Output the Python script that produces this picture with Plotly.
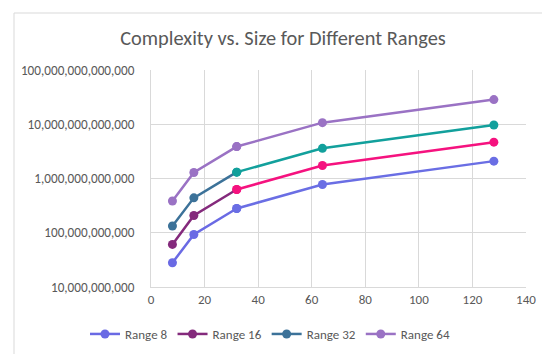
import plotly.graph_objects as go

sizes = [8, 16, 32, 64, 128]
series_names = ["Range 8", "Range 16", "Range 32", "Range 64"]
range8 = [2.8e10, 9.3e10, 2.8e11, 7.75e11, 2.09e12]
range16 = [6.1e10, 2.08e11, 6.27e11, 1.74e12, 4.68e12]
range32 = [1.33e11, 4.4e11, 1.31e12, 3.6e12, 9.7e12]
range64 = [3.84e11, 1.29e12, 3.88e12, 1.07e13, 2.85e13]
series_values = [range8, range16, range32, range64]

dark_colors = ["#6a6ae4", "#842a7c", "#3c7299", "#9a72c4"]
bright_colors = ["#6a6ee4", "#f5127f", "#12a09c", "#9a72c4"]

ytick_vals = [1e10, 1e11, 1e12, 1e13, 1e14]
ytick_text = ["10,000,000,000", "100,000,000,000", "1,000,000,000,000",
              "10,000,000,000,000", "100,000,000,000,000"]

FONT = "Carlito, Calibri, Lato, sans-serif"
fig = go.Figure()
split = 2
for name, vals, dc, bc in zip(series_names, series_values, dark_colors, bright_colors):
    fig.add_trace(go.Scatter(
        x=sizes[split:], y=vals[split:], mode="lines+markers", name=name,
        line=dict(color=bc, width=2.5), marker=dict(color=bc, size=9),
        showlegend=False, legendgroup=name))
for name, vals, dc, bc in zip(series_names, series_values, dark_colors, bright_colors):
    fig.add_trace(go.Scatter(
        x=sizes[:split + 1], y=vals[:split + 1], mode="lines+markers", name=name,
        line=dict(color=dc, width=2.5),
        marker=dict(color=[dc, dc, bc], size=9),
        legendgroup=name))

fig.update_layout(
    width=550, height=354,
    paper_bgcolor="white", plot_bgcolor="white",
    margin=dict(l=143, r=32, t=62, b=75),
    font=dict(family=FONT, color="#595959", size=12),
    title=dict(text="Complexity vs. Size for Different Ranges",
               x=0.5, xref="container", xanchor="center",
               y=1 - 30 / 354, yref="container", yanchor="middle",
               font=dict(size=20.4, color="#595959", family=FONT)),
    legend=dict(orientation="h", x=262 / 550, xref="container", xanchor="center",
                y=1 - 326 / 354, yref="container", yanchor="middle",
                font=dict(size=13, color="#595959"), traceorder="normal",
                itemwidth=30),
    xaxis=dict(range=[0, 140], dtick=20, tick0=0, showgrid=True,
               gridcolor="#d9d9d9", gridwidth=1, zeroline=False,
               showline=True, linecolor="#d9d9d9", ticks="",
               automargin=False,
               tickfont=dict(size=13, color="#595959")),
    yaxis=dict(type="log", range=[10, 14], tickvals=ytick_vals, ticktext=ytick_text,
               showgrid=True, gridcolor="#d9d9d9", gridwidth=1, zeroline=False,
               showline=True, linecolor="#d9d9d9", ticks="",
               ticklabelstandoff=13, automargin=False,
               tickfont=dict(size=13.2, color="#595959")),
    shapes=[dict(type="rect", xref="paper", yref="paper",
                 x0=(6 - 143) / 375, x1=(545 - 143) / 375,
                 y0=(279 - 349) / 217, y1=(279 - 5) / 217,
                 line=dict(color="#d9d9d9", width=1), fillcolor="rgba(0,0,0,0)",
                 layer="below")],
)

fig.write_html("out.html")
